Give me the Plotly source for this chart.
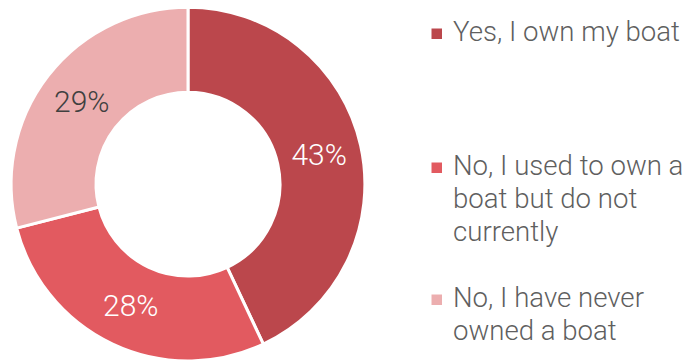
import plotly.graph_objects as go

labels = ["Yes, I own my boat",
          "No, I used to own a boat but do not currently",
          "No, I have never owned a boat"]
legend_lines = [["Yes, I own my boat"],
                ["No, I used to own a", "boat but do not", "currently"],
                ["No, I have never", "owned a boat"]]
values = [43, 28, 29]
colors = ["#BB474C", "#E25A60", "#ECAEAF"]
text_colors = ["#FFFFFF", "#FFFFFF", "#404040"]

W, H = 689, 361
FONT = "Roboto"

fig = go.Figure(go.Pie(
    labels=labels, values=values, sort=False, direction="clockwise", rotation=0,
    hole=0.52,
    marker=dict(colors=colors, line=dict(color="white", width=3)),
    textinfo="percent", textposition="inside", insidetextorientation="horizontal",
    insidetextfont=dict(family=FONT, size=30, color=text_colors, weight=300),
    domain=dict(x=[11 / W, 365 / W], y=[0, 0.98]),
    showlegend=False, hoverinfo="label+percent",
))

# legend drawn with annotations and squares
first_baselines = [42, 176, 308]
line_h = 33
for i, lines in enumerate(legend_lines):
    for j, ln in enumerate(lines):
        base = first_baselines[i] + j * line_h
        fig.add_annotation(
            x=452 / W, y=1 - (base + 7) / H, xref="paper", yref="paper",
            xanchor="left", yanchor="bottom", showarrow=False, text=ln,
            font=dict(family=FONT, size=27.6, color="#5F5F5F", weight=300),
            align="left", xshift=0, borderpad=0,
        )
    fig.add_shape(type="rect", xref="paper", yref="paper",
                  x0=431.5 / W, x1=442 / W,
                  y0=1 - (first_baselines[i] - 3) / H, y1=1 - (first_baselines[i] - 13.5) / H,
                  fillcolor=colors[i], line=dict(width=0))

fig.update_layout(width=W, height=H, margin=dict(l=0, r=0, t=0, b=0),
                  paper_bgcolor="white", plot_bgcolor="white")
fig.write_html("out.html", config={"displayModeBar": False},
               post_script="document.body.style.margin='0';document.body.style.overflow='hidden';")
